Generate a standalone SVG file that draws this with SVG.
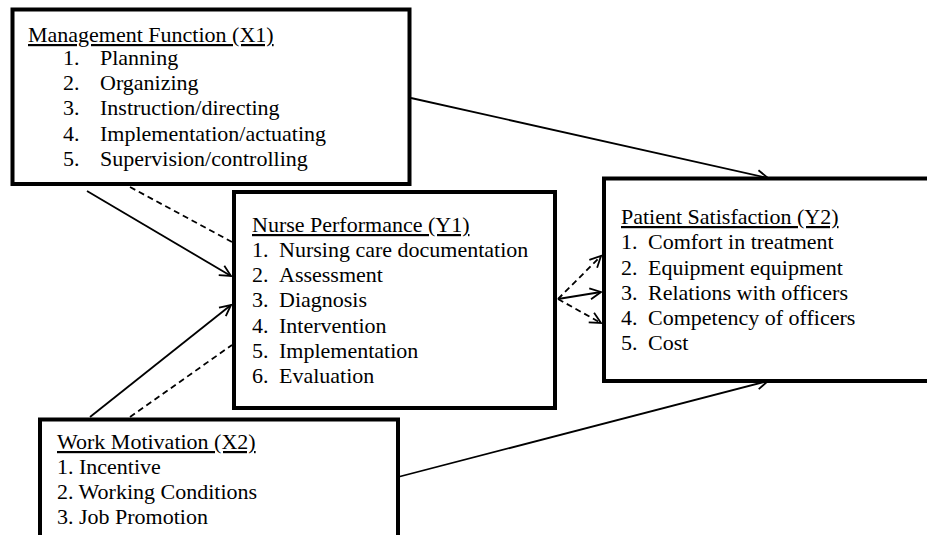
<svg xmlns="http://www.w3.org/2000/svg" width="927" height="535" viewBox="0 0 927 535" font-family="'Liberation Serif', 'DejaVu Serif', serif">
<style>
  .box { fill: #fff; stroke: #000; stroke-width: 4; }
  text { font-family: 'Liberation Serif', 'DejaVu Serif', serif; font-size: 22px; fill: #000; }
  .title { text-decoration: underline; }
  .conn { stroke: #000; stroke-width: 1.8; fill: none; }
  .dash { stroke-dasharray: 6 4; }
  .arrow { marker-end: url(#open); }
</style>
<defs>
  <marker id="open" markerUnits="userSpaceOnUse" markerWidth="16" markerHeight="16" viewBox="-12 -8 14 16" refX="0" refY="0" orient="auto">
    <path d="M-11,-5.5 L0,0 L-11,5.5" fill="none" stroke="#000" stroke-width="1.8" stroke-dasharray="none"/>
  </marker>
</defs>
<rect width="927" height="535" fill="#fff"/>
<g id="connectors">
  <line class="conn arrow" x1="411" y1="98" x2="768" y2="178"/>
  <line class="conn arrow" x1="87" y1="191" x2="231" y2="276"/>
  <line class="conn dash" x1="130" y1="187" x2="232" y2="242"/>
  <line class="conn arrow" x1="90" y1="417" x2="231" y2="305"/>
  <line class="conn dash" x1="130" y1="417" x2="232" y2="345"/>
  <line class="conn arrow" x1="558" y1="299" x2="601" y2="292"/>
  <line class="conn dash arrow" x1="558" y1="299" x2="601" y2="256"/>
  <line class="conn dash arrow" x1="558" y1="299" x2="601" y2="323"/>
  <line class="conn arrow" x1="398" y1="477" x2="768" y2="381"/>
</g>
<g id="x1">
  <rect class="box" x="12.5" y="9.5" width="397" height="174.5"/>
  <text class="title" x="28" y="42">Management Function (X1)</text>
  <text x="63" y="65">1.</text><text x="100" y="65">Planning</text>
  <text x="63" y="90">2.</text><text x="100" y="90">Organizing</text>
  <text x="63" y="115">3.</text><text x="100" y="115">Instruction/directing</text>
  <text x="63" y="141">4.</text><text x="100" y="141">Implementation/actuating</text>
  <text x="63" y="166">5.</text><text x="100" y="166">Supervision/controlling</text>
</g>
<g id="y1">
  <rect class="box" x="234" y="192" width="321" height="216"/>
  <text class="title" x="252" y="232">Nurse Performance (Y1)</text>
  <text x="252" y="257">1.</text><text x="279" y="257">Nursing care documentation</text>
  <text x="252" y="282">2.</text><text x="279" y="282">Assessment</text>
  <text x="252" y="307">3.</text><text x="279" y="307">Diagnosis</text>
  <text x="252" y="333">4.</text><text x="279" y="333">Intervention</text>
  <text x="252" y="358">5.</text><text x="279" y="358">Implementation</text>
  <text x="252" y="383">6.</text><text x="279" y="383">Evaluation</text>
</g>
<g id="y2">
  <rect class="box" x="604" y="178.5" width="340" height="202.5"/>
  <text class="title" x="621" y="224">Patient Satisfaction (Y2)</text>
  <text x="621" y="249">1.</text><text x="648" y="249">Comfort in treatment</text>
  <text x="621" y="275">2.</text><text x="648" y="275">Equipment equipment</text>
  <text x="621" y="300">3.</text><text x="648" y="300">Relations with officers</text>
  <text x="621" y="325">4.</text><text x="648" y="325">Competency of officers</text>
  <text x="621" y="350">5.</text><text x="648" y="350">Cost</text>
</g>
<g id="x2">
  <rect class="box" x="40" y="419.5" width="358" height="130"/>
  <text class="title" x="57" y="449">Work Motivation (X2)</text>
  <text x="57" y="474">1. Incentive</text>
  <text x="57" y="499">2. Working Conditions</text>
  <text x="57" y="524">3. Job Promotion</text>
</g>
</svg>
